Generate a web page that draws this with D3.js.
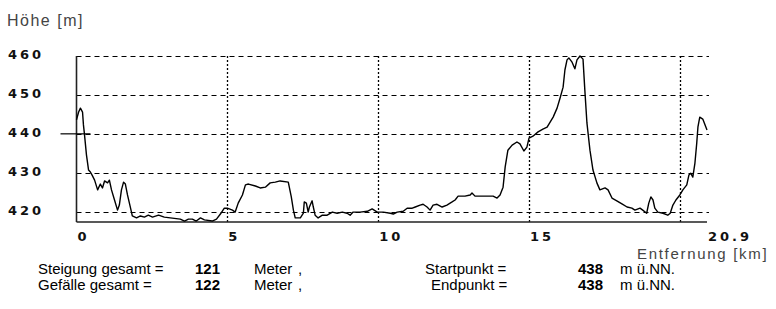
<!DOCTYPE html>
<html>
<head>
<meta charset="utf-8">
<script src="https://cdn.jsdelivr.net/npm/d3@7"></script>
<style>
  body { margin: 0; background: #fff; }
  svg { display: block; }
</style>
</head>
<body>
<script>
// Hoehenprofil - Werte
const distKm = [0, 0.07, 0.13, 0.2, 0.23, 0.26, 0.33, 0.4, 0.46, 0.53, 0.6, 0.7, 0.79, 0.86, 0.93, 1.03, 1.09, 1.16, 1.26, 1.36,
  1.42, 1.49, 1.56, 1.62, 1.69, 1.79, 1.85, 1.99, 2.12, 2.25, 2.38, 2.52, 2.72, 2.91, 3.11, 3.44, 3.58, 3.71, 3.84, 3.97,
  4.11, 4.24, 4.5, 4.64, 4.77, 4.9, 5.0, 5.17, 5.26, 5.36, 5.5, 5.6, 5.7, 5.93, 6.09, 6.26, 6.42, 6.59, 6.75, 7.02,
  7.12, 7.19, 7.25, 7.42, 7.52, 7.55, 7.62, 7.68, 7.72, 7.81, 7.85, 7.91, 8.01, 8.15, 8.31, 8.48, 8.64, 8.81, 8.97, 9.07,
  9.17, 9.4, 9.64, 9.8, 9.97, 10.17, 10.4, 10.5, 10.63, 10.83, 10.96, 11.13, 11.23, 11.39, 11.49, 11.62, 11.72, 11.82, 11.95, 12.12,
  12.28, 12.45, 12.55, 12.65, 12.88, 13.05, 13.11, 13.21, 13.48, 13.81, 13.94, 14.04, 14.14, 14.21, 14.3, 14.44, 14.6, 14.7, 14.83, 14.93,
  15.0, 15.13, 15.3, 15.46, 15.6, 15.7, 15.8, 15.93, 16.03, 16.13, 16.19, 16.26, 16.32, 16.42, 16.52, 16.59, 16.69, 16.79, 16.85, 16.92,
  17.02, 17.12, 17.25, 17.35, 17.52, 17.62, 17.75, 17.91, 18.08, 18.25, 18.41, 18.51, 18.68, 18.77, 18.9, 18.97, 19.04, 19.11, 19.17, 19.27,
  19.44, 19.6, 19.68, 19.77, 19.87, 20.0, 20.1, 20.23, 20.3, 20.36, 20.43, 20.5, 20.56, 20.6, 20.66, 20.76, 20.9]
const heightM = [443.6, 445.6, 446.6, 445.6, 442.3, 440.2, 434.6, 430.7, 430.2, 429.2, 428.1, 425.6, 427.1, 426.1, 427.9, 427.4, 428.1, 425.6, 423.0, 420.4,
  421.7, 425.6, 427.6, 427.1, 424.3, 421.0, 418.9, 418.4, 418.9, 418.6, 419.1, 418.6, 419.1, 418.6, 418.4, 418.1, 417.6, 418.1, 418.1, 417.6,
  418.4, 417.9, 417.6, 418.1, 419.4, 420.9, 420.9, 420.4, 419.9, 422.2, 424.3, 426.9, 427.1, 426.6, 426.1, 426.3, 427.4, 427.6, 427.9, 427.6,
  423.8, 420.4, 418.4, 418.4, 419.6, 422.5, 422.2, 419.9, 421.2, 422.8, 421.2, 419.1, 418.4, 419.1, 419.1, 419.9, 419.6, 419.9, 419.6, 419.1,
  419.9, 419.9, 420.1, 420.7, 419.9, 419.9, 419.6, 419.4, 419.9, 420.1, 420.9, 420.9, 421.2, 421.7, 421.9, 421.2, 420.4, 421.7, 421.9, 421.2,
  421.7, 422.5, 423.0, 424.0, 424.0, 424.3, 424.8, 424.0, 424.0, 424.0, 423.5, 424.3, 426.3, 431.5, 435.8, 437.1, 437.9, 437.4, 435.6, 436.6,
  438.9, 439.4, 440.5, 441.2, 441.7, 443.0, 444.3, 446.6, 449.2, 452.0, 456.4, 459.0, 459.5, 458.5, 456.7, 459.0, 460.0, 459.2, 451.3, 442.8,
  435.8, 430.7, 427.4, 425.6, 426.1, 425.6, 423.5, 422.8, 422.0, 421.2, 420.9, 420.4, 420.9, 420.4, 419.6, 422.2, 423.8, 423.0, 420.9, 419.9,
  419.6, 419.1, 419.6, 421.7, 423.0, 424.3, 425.6, 426.9, 429.4, 429.9, 428.9, 432.5, 437.6, 441.8, 444.3, 443.8, 441.0]

const yTicks = [420, 430, 440, 450, 460]
const xTickLabels = [0, 5, 10, 15, 20.9]
const xGridKm = [5, 10, 15, 20]
const markHeight = 440

const statLabels = ['Steigung gesamt =', 'Gefälle gesamt =']
const statValues = [121, 122]
const pointLabels = ['Startpunkt =', 'Endpunkt =']
const pointValues = [438, 438]

const w = 776
const h = 309

const svg = d3.select('body')
  .append('svg')
  .attr('width', w)
  .attr('height', h)

const x = d3.scaleLinear()
  .domain([0, 20.9])
  .range([76.5, 707])

const y = d3.scaleLinear()
  .domain([417.35, 460])
  .range([222, 56])

// horizontale Gitterlinien (gestrichelt)
svg.append('g')
  .selectAll('line')
  .data(yTicks)
  .enter()
  .append('line')
  .attr('x1', x(0))
  .attr('x2', x(20.9) + 2)
  .attr('y1', d => Math.round(y(d)) + 0.5)
  .attr('y2', d => Math.round(y(d)) + 0.5)
  .style('stroke', '#000')
  .style('stroke-width', 1)
  .style('stroke-dasharray', '5,4')

// vertikale Gitterlinien (gepunktet)
svg.append('g')
  .selectAll('line')
  .data(xGridKm)
  .enter()
  .append('line')
  .attr('x1', d => Math.round(x(d)) + 0.5)
  .attr('x2', d => Math.round(x(d)) + 0.5)
  .attr('y1', y(460))
  .attr('y2', y(417.35) + 2)
  .style('stroke', '#000')
  .style('stroke-width', 1.3)
  .style('stroke-dasharray', '2,2')

// Achsen
svg.append('line')
  .attr('x1', x(0)).attr('x2', x(0))
  .attr('y1', y(460)).attr('y2', y(417.35))
  .style('stroke', '#222')
  .style('stroke-width', 1.6)

svg.append('line')
  .attr('x1', x(0)).attr('x2', x(20.9))
  .attr('y1', y(417.35)).attr('y2', y(417.35))
  .style('stroke', '#222')
  .style('stroke-width', 1.6)

// Markierung Starthoehe
svg.append('line')
  .attr('x1', x(0) - 16).attr('x2', x(0) + 14)
  .attr('y1', y(markHeight)).attr('y2', y(markHeight))
  .style('stroke', '#000')
  .style('stroke-width', 1.2)

// Profil
const line = d3.line()
  .x((d, i) => x(distKm[i]))
  .y(d => y(d))

svg.append('path')
  .datum(heightM)
  .attr('d', line)
  .style('fill', 'none')
  .style('stroke', '#000')
  .style('stroke-width', 1.4)
  .style('stroke-linejoin', 'round')

// Achsenbeschriftungen
svg.append('g')
  .selectAll('text')
  .data(yTicks)
  .enter()
  .append('text')
  .attr('x', 8)
  .attr('y', d => y(d) + 3)
  .text(d => d)
  .style('font-family', '"DejaVu Sans", Verdana, sans-serif')
  .style('font-weight', 'bold')
  .style('font-size', '13px')
  .style('letter-spacing', '3px')
  .style('fill', '#111')

svg.append('g')
  .selectAll('text')
  .data(xTickLabels)
  .enter()
  .append('text')
  .attr('x', d => x(d) + 1)
  .attr('y', 241)
  .text(d => d)
  .style('font-family', '"DejaVu Sans", Verdana, sans-serif')
  .style('font-weight', 'bold')
  .style('font-size', '13px')
  .style('letter-spacing', '3px')
  .style('fill', '#111')

svg.append('text')
  .attr('x', 7)
  .attr('y', 26)
  .text('Höhe [m]')
  .style('font-family', '"Liberation Sans", Arial, sans-serif')
  .style('font-size', '16px')
  .style('letter-spacing', '1.5px')
  .style('fill', '#444')

svg.append('text')
  .attr('x', 637)
  .attr('y', 259)
  .text('Entfernung [km]')
  .style('font-family', '"Liberation Sans", Arial, sans-serif')
  .style('font-size', '15px')
  .style('letter-spacing', '1.7px')
  .style('fill', '#444')

// Statistik unten
const rowY = [274, 290]

const stats = svg.append('g')
  .style('font-family', '"Liberation Sans", Arial, sans-serif')
  .style('font-size', '15px')
  .style('fill', '#000')

function put(tx, ty, str, bold) {
  stats.append('text')
    .attr('x', tx)
    .attr('y', ty)
    .style('font-weight', bold ? 'bold' : 'normal')
    .text(str)
}

statLabels.forEach((s, i) => {
  put(38, rowY[i], s)
  put(195, rowY[i], statValues[i], true)
  put(254, rowY[i], 'Meter')
  put(298, rowY[i], ',')
  put(i === 0 ? 425 : 431, rowY[i], pointLabels[i])
  put(578, rowY[i], pointValues[i], true)
  put(620, rowY[i], 'm ü.NN.')
})
</script>
</body>
</html>
